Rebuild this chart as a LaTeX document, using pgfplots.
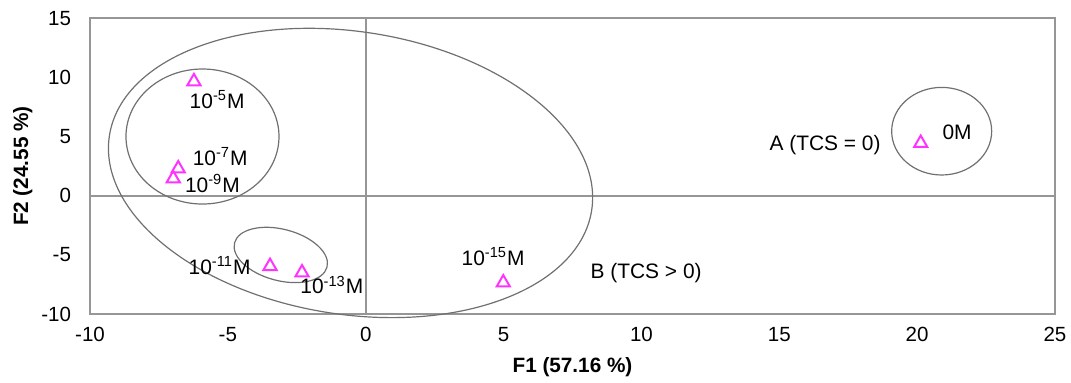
\documentclass[border=0pt]{standalone}
\usepackage{pgfplots}
\pgfplotsset{compat=1.18}
\usepackage{fontspec}
\setmainfont{Liberation Sans}
\usetikzlibrary{calc,shapes.geometric}
\definecolor{mag}{RGB}{255,51,255}
\definecolor{axgray}{RGB}{150,150,150}
\definecolor{elgray}{RGB}{112,112,112}
\begin{document}
\begin{tikzpicture}
\begin{axis}[
  name=ax,
  scale only axis, width=482.5bp, height=147.9bp,
  xmin=-10, xmax=25, ymin=-10, ymax=15,
  xtick={-10,-5,0,5,10,15,20,25},
  ytick={-10,-5,0,5,10,15},
  major tick length=0,
  axis line style={axgray, line width=1bp},
  tick label style={font=\fontsize{10.3}{11}\selectfont},
  /pgf/number format/assume math mode=true,
  yticklabel style={xshift=-6bp},
  xticklabel style={yshift=-3bp},
  xlabel={\textbf{F1 (57.16 \%)}},
  ylabel={\textbf{F2 (24.55 \%)}},
  label style={font=\fontsize{10.4}{11}\selectfont},
  xlabel style={at={(axis description cs:0.5,-0.179)}, anchor=center},
  ylabel style={at={(axis description cs:-0.0697,0.5)}, anchor=center},
  clip=false,
]
\draw[axgray, line width=1bp] (axis cs:0,-10) -- (axis cs:0,15);
\draw[axgray, line width=1bp] (axis cs:-10,0) -- (axis cs:25,0);

\node[draw=elgray, line width=0.6bp, ellipse, inner sep=0pt, minimum width=244bp, minimum height=141.4bp, rotate=-8.8] at (axis cs:-0.55,1.92) {};
\node[draw=elgray, line width=0.6bp, ellipse, inner sep=0pt, minimum width=76.5bp, minimum height=67.5bp] at (axis cs:-5.92,5.0) {};
\node[draw=elgray, line width=0.6bp, ellipse, inner sep=0pt, minimum width=47.8bp, minimum height=25.7bp, rotate=-14.7] at (axis cs:-3.08,-5.01) {};
\node[draw=elgray, line width=0.6bp, ellipse, inner sep=0pt, minimum width=50bp, minimum height=43.8bp] at (axis cs:20.89,5.45) {};

\addplot[only marks, mark=triangle, mark size=3.8bp, color=mag,
  mark options={line width=1bp, yshift=-0.95bp}] coordinates {
  (-6.23,9.81)
  (-6.80,2.45)
  (-6.98,1.61)
  (-3.47,-5.80)
  (-2.31,-6.34)
  (4.99,-7.19)
  (20.13,4.60)
};

\begin{scope}[every node/.style={font=\fontsize{10.5}{11}\selectfont, inner sep=0pt}]
\node at (axis cs:-5.39,8.09) {10\textsuperscript{-5}M};
\node at (axis cs:-5.28,3.30) {10\textsuperscript{-7}M};
\node at (axis cs:-5.56,1.05) {10\textsuperscript{-9}M};
\node at (axis cs:-5.30,-5.89) {10\textsuperscript{-11}M};
\node at (axis cs:-1.23,-7.55) {10\textsuperscript{-13}M};
\node at (axis cs:4.62,-5.16) {10\textsuperscript{-15}M};
\node at (axis cs:21.45,5.38) {0M};
\node at (axis cs:16.66,4.29) {A (TCS = 0)};
\node at (axis cs:10.17,-6.53) {B (TCS > 0)};
\end{scope}
\end{axis}
\pgfresetboundingbox
\path ($(ax.south west)+(-45bp,-34.5bp)$) rectangle ($(ax.north east)+(8bp,9.1bp)$);
\end{tikzpicture}
\end{document}
